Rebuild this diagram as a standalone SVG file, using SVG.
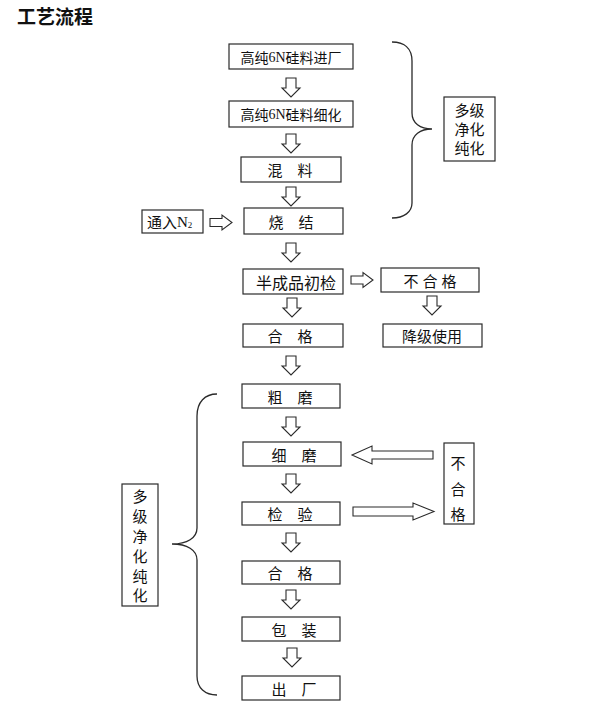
<svg xmlns="http://www.w3.org/2000/svg" xmlns:xlink="http://www.w3.org/1999/xlink" width="596" height="714" viewBox="0 0 596 714">
<style>
.box{fill:#fff;stroke:#2a2a2a;stroke-width:1.2}
.t{font-family:"Noto Sans CJK SC","Noto Sans",sans-serif;font-size:15px;fill:#111;text-anchor:middle;dominant-baseline:central}
.s{font-family:"Liberation Serif",serif}
.arr{fill:#fff;stroke:#2a2a2a;stroke-width:1.1;stroke-linejoin:miter}
.brace{fill:none;stroke:#2a2a2a;stroke-width:1.3}
</style>
<defs>
<path id="down" class="arr" d="M-5,0 H5 V10 H9 L0,19 L-9,10 H-5 Z"/>
<path id="right" class="arr" d="M0,-4 H12 V-7.5 L22,0 L12,7.5 V4 H0 Z"/>
</defs>
<rect width="596" height="714" fill="#fff"/>
<text x="17" y="15" class="t" style="text-anchor:start;font-size:19px;font-weight:bold">工艺流程</text>

<g id="connectors">
<use xlink:href="#down" x="291" y="78"/>
<use xlink:href="#down" x="291" y="134"/>
<use xlink:href="#down" x="291" y="187"/>
<use xlink:href="#down" x="291" y="243"/>
<use xlink:href="#down" x="292" y="298"/>
<use xlink:href="#down" x="291" y="356"/>
<use xlink:href="#down" x="291" y="417"/>
<use xlink:href="#down" x="291" y="474"/>
<use xlink:href="#down" x="291" y="533"/>
<use xlink:href="#down" x="291" y="590"/>
<use xlink:href="#down" x="292" y="648"/>
<use xlink:href="#down" x="432" y="296"/>
<use xlink:href="#right" x="210" y="222.5"/>
<use xlink:href="#right" x="351" y="280"/>
<path class="arr" d="M352,455 L372,446 V451 H433 V459 H372 V464 Z"/>
<path class="arr" d="M353,507 H413 V503 L434,511.5 L413,520 V516 H353 Z"/>
<path class="brace" d="M392,42 C404,42 412,48 412,61 V113 C412,123 420,129 432,129 C420,129 412,135 412,145 V203 C412,212 404,218 392,218"/>
<path class="brace" d="M217,394 C205,394 197,402 197,416 V528 C197,538 187,544 172,544 C187,544 197,550 197,560 V676 C197,688 205,695 217,695"/>
</g>

<g id="n1"><rect class="box" x="229" y="44" width="124" height="25"/><text class="t" x="291" y="56.5" style="font-size:14px">高纯<tspan class="s">6N</tspan>硅料进厂</text></g>
<g id="n2"><rect class="box" x="229" y="101" width="124" height="26"/><text class="t" x="291" y="114" style="font-size:14px">高纯<tspan class="s">6N</tspan>硅料细化</text></g>
<g id="n3"><rect class="box" x="241" y="157" width="100" height="25"/><text class="t" x="290" y="169.5">混　料</text></g>
<g id="n4"><rect class="box" x="244" y="208" width="99" height="26"/><text class="t" x="291" y="221">烧　结</text></g>
<g id="n5"><rect class="box" x="142" y="210" width="61" height="23"/><text class="t" x="147" y="221.5" style="text-anchor:start">通入<tspan class="s">N</tspan><tspan class="s" style="font-size:9px" dy="3">2</tspan></text></g>
<g id="n6"><rect class="box" x="444" y="97" width="51" height="64"/><text class="t" x="469.5" y="109">多级</text><text class="t" x="469.5" y="128">净化</text><text class="t" x="469.5" y="147">纯化</text></g>
<g id="n7"><rect class="box" x="243" y="269" width="100" height="25"/><text class="t" x="296" y="281.5" style="font-size:16px">半成品初检</text></g>
<g id="n8"><rect class="box" x="381" y="268" width="98" height="24"/><text class="t" x="432" y="280" style="letter-spacing:4px">不合格</text></g>
<g id="n9"><rect class="box" x="383" y="324" width="99" height="23"/><text class="t" x="432" y="335.5">降级使用</text></g>
<g id="n10"><rect class="box" x="243" y="324" width="100" height="23"/><text class="t" x="290" y="335.5">合　格</text></g>
<g id="n11"><rect class="box" x="242" y="384" width="98" height="24"/><text class="t" x="290" y="396">粗　磨</text></g>
<g id="n12"><rect class="box" x="243" y="442" width="98" height="24"/><text class="t" x="294" y="454">细　磨</text></g>
<g id="n13"><rect class="box" x="242" y="502" width="98" height="23"/><text class="t" x="290" y="513.5">检　验</text></g>
<g id="n14"><rect class="box" x="444" y="443" width="30" height="81"/><text class="t" x="458" y="462">不</text><text class="t" x="458" y="488">合</text><text class="t" x="458" y="513">格</text></g>
<g id="n15"><rect class="box" x="242" y="561" width="98" height="23"/><text class="t" x="290" y="572.5">合　格</text></g>
<g id="n16"><rect class="box" x="242" y="617" width="98" height="24"/><text class="t" x="294" y="629">包　装</text></g>
<g id="n17"><rect class="box" x="242" y="676" width="98" height="24"/><text class="t" x="294" y="688">出　厂</text></g>
<g id="n18"><rect class="box" x="122" y="484" width="36" height="122"/><text class="t" x="140" y="495">多</text><text class="t" x="140" y="515">级</text><text class="t" x="140" y="535">净</text><text class="t" x="140" y="555">化</text><text class="t" x="140" y="575">纯</text><text class="t" x="140" y="594">化</text></g>
</svg>
